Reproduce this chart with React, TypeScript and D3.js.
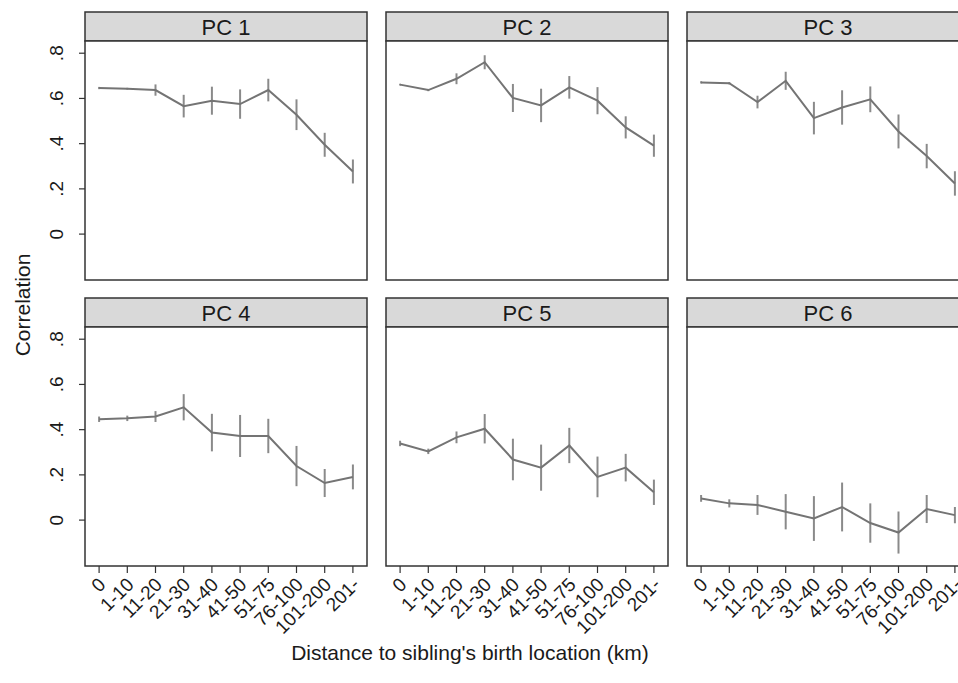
import React, { useEffect, useRef } from "react";
import * as d3 from "d3";

const categories = ["0", "1-10", "11-20", "21-30", "31-40", "41-50", "51-75", "76-100", "101-200", "201-"];
const panelTitles = ["PC 1", "PC 2", "PC 3", "PC 4", "PC 5", "PC 6"];

const pc1 = [0.646, 0.643, 0.637, 0.566, 0.59, 0.575, 0.637, 0.528, 0.395, 0.277];
const pc1Err = [0.005, 0.004, 0.025, 0.05, 0.062, 0.065, 0.05, 0.068, 0.053, 0.053];
const pc2 = [0.661, 0.637, 0.687, 0.76, 0.602, 0.569, 0.649, 0.59, 0.472, 0.391];
const pc2Err = [0.004, 0.005, 0.024, 0.031, 0.062, 0.074, 0.05, 0.06, 0.049, 0.049];
const pc3 = [0.671, 0.667, 0.584, 0.678, 0.513, 0.56, 0.596, 0.454, 0.345, 0.224];
const pc3Err = [0.005, 0.005, 0.028, 0.04, 0.072, 0.076, 0.057, 0.075, 0.054, 0.054];
const pc4 = [0.446, 0.45, 0.458, 0.499, 0.387, 0.372, 0.372, 0.239, 0.164, 0.191];
const pc4Err = [0.012, 0.012, 0.024, 0.058, 0.083, 0.093, 0.076, 0.089, 0.062, 0.055];
const pc5 = [0.339, 0.304, 0.366, 0.404, 0.268, 0.232, 0.33, 0.191, 0.232, 0.123];
const pc5Err = [0.012, 0.012, 0.026, 0.065, 0.092, 0.102, 0.078, 0.09, 0.061, 0.056];
const pc6 = [0.096, 0.074, 0.067, 0.037, 0.007, 0.058, -0.013, -0.055, 0.049, 0.022];
const pc6Err = [0.015, 0.018, 0.044, 0.078, 0.099, 0.108, 0.087, 0.093, 0.062, 0.036];

const yTicks = [0, 0.2, 0.4, 0.6, 0.8];
const yTickLabels = ["0", ".2", ".4", ".6", ".8"];

const series = [pc1, pc2, pc3, pc4, pc5, pc6];
const errors = [pc1Err, pc2Err, pc3Err, pc4Err, pc5Err, pc6Err];

const App = () => {
  const svgRef = useRef<SVGSVGElement>(null);

  useEffect(() => {
    const width = 958;
    const height = 683;
    const font = "Liberation Sans, Arial, sans-serif";

    const svg = d3.select(svgRef.current);
    svg.selectAll("*").remove();
    svg.attr("width", width).attr("height", height).style("font-family", font);

    // panel layout
    const panelLeft = 85;
    const panelW = 282;
    const panelGap = 19;
    const rowTops = [12, 298];
    const stripH = 29;
    const plotH = 239;

    const xScale = d3.scalePoint().domain(categories).range([0, panelW]).padding(0.5);
    const yScale = d3.scaleLinear().domain([-0.203, 0.854]).range([plotH, 0]);

    series.forEach((vals, p) => {
      const col = p % 3;
      const row = Math.floor(p / 3);
      const g = svg
        .append("g")
        .attr("transform", `translate(${panelLeft + col * (panelW + panelGap)},${rowTops[row]})`);

      // strip header
      g.append("rect")
        .attr("width", panelW)
        .attr("height", stripH)
        .attr("fill", "#d9d9d9")
        .attr("stroke", "#333")
        .attr("stroke-width", 1.5);
      g.append("text")
        .attr("x", panelW / 2)
        .attr("y", stripH / 2 + 8)
        .attr("text-anchor", "middle")
        .attr("font-size", 22)
        .attr("fill", "#1a1a1a")
        .text(panelTitles[p]);

      const plot = g.append("g").attr("transform", `translate(0,${stripH})`);
      plot
        .append("rect")
        .attr("width", panelW)
        .attr("height", plotH)
        .attr("fill", "white")
        .attr("stroke", "#333")
        .attr("stroke-width", 1.5);

      const data = vals.map((v, i) => ({ cat: categories[i], v, e: errors[p][i] }));

      // error bars
      plot
        .selectAll(".err")
        .data(data)
        .enter()
        .append("line")
        .attr("x1", (d) => xScale(d.cat)!)
        .attr("x2", (d) => xScale(d.cat)!)
        .attr("y1", (d) => yScale(d.v - d.e))
        .attr("y2", (d) => yScale(d.v + d.e))
        .attr("stroke", "#8a8a8a")
        .attr("stroke-width", 2);

      const line = d3
        .line<{ cat: string; v: number }>()
        .x((d) => xScale(d.cat)!)
        .y((d) => yScale(d.v));

      plot
        .append("path")
        .datum(data)
        .attr("fill", "none")
        .attr("stroke", "#747474")
        .attr("stroke-width", 2)
        .attr("d", line);

      // y axis on first column
      if (col === 0) {
        const yAxis = plot.append("g");
        yTicks.forEach((t, i) => {
          yAxis
            .append("line")
            .attr("x1", -6)
            .attr("x2", 0)
            .attr("y1", yScale(t))
            .attr("y2", yScale(t))
            .attr("stroke", "#333")
            .attr("stroke-width", 1.2);
          yAxis
            .append("text")
            .attr("transform", `translate(-29,${yScale(t)}) rotate(-90)`)
            .attr("text-anchor", "middle")
            .attr("dy", "0.35em")
            .attr("font-size", 19)
            .attr("fill", "#1a1a1a")
            .text(yTickLabels[i]);
        });
      }

      // x axis on bottom row
      if (row === 1) {
        const xAxis = plot.append("g").attr("transform", `translate(0,${plotH})`);
        categories.forEach((c) => {
          xAxis
            .append("line")
            .attr("x1", xScale(c)!)
            .attr("x2", xScale(c)!)
            .attr("y1", 0)
            .attr("y2", 7)
            .attr("stroke", "#333")
            .attr("stroke-width", 1.2);
          xAxis
            .append("text")
            .attr("transform", `translate(${xScale(c)! + 3},${15}) rotate(-45)`)
            .attr("text-anchor", "end")
            .attr("dy", "0.35em")
            .attr("font-size", 19)
            .attr("fill", "#1a1a1a")
            .text(c);
        });
      }
    });

    // axis titles
    svg
      .append("text")
      .attr("transform", `translate(30,305) rotate(-90)`)
      .attr("text-anchor", "middle")
      .attr("font-size", 21)
      .attr("fill", "#1a1a1a")
      .text("Correlation");

    svg
      .append("text")
      .attr("x", 470)
      .attr("y", 660)
      .attr("text-anchor", "middle")
      .attr("font-size", 21)
      .attr("fill", "#1a1a1a")
      .text("Distance to sibling's birth location (km)");
  }, []);

  return (
    <div style={{ position: "absolute", left: 0, top: 0 }}>
      <svg ref={svgRef}></svg>
    </div>
  );
};

export default App;
